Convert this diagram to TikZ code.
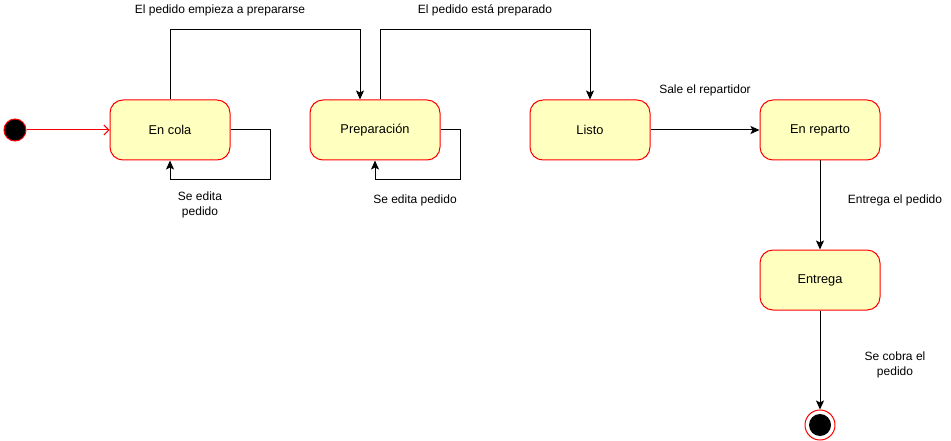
\documentclass[tikz,border=0pt]{standalone}
\usepackage{fontspec}
\setmainfont{Liberation Sans}
\usepackage{xcolor}
\usetikzlibrary{positioning,arrows.meta}
\definecolor{stFill}{HTML}{FFFFC0}
\definecolor{stLine}{HTML}{FF0000}

\begin{document}
\begin{tikzpicture}[x=1pt, y=-1pt, line width=1pt,
    font=\fontsize{12}{14.5}\selectfont,
    estado/.style={draw=stLine, fill=stFill, rounded corners=13pt,
        minimum width=120pt, minimum height=60pt, inner sep=0pt,
        font=\fontsize{12.8}{15}\selectfont},
    trans/.style={-{Stealth[length=9pt,width=8pt,inset=2pt]}, black},
    etiqueta/.style={align=center, inner sep=0pt}]
        \useasboundingbox (0,0) rectangle (951,441);

        % Initial and final states
        \node [circle, draw=stLine, fill=black, minimum size=22pt, inner sep=0pt] (ini) at (15,130) {};
        \node [circle, draw=stLine, fill=white, minimum size=30pt, inner sep=0pt] (fin) at (820,425) {};
        \node [circle, fill=black, minimum size=22pt, inner sep=0pt] (finIn) at (fin) {};

        % States
        \node [estado] (cola) at (170,130) {En cola};
        \node [estado, minimum width=130pt] (prep) at (375,130) {Preparación};
        \node [estado] (listo) at (590,130) {Listo};
        \node [estado] (reparto) at (820,130) {En reparto};
        \node [estado] (entrega) at (820,280) {Entrega};

        % Transitions
        \draw [stLine, -{Straight Barb[length=5pt,width=10pt]}] (ini) -- (cola);
        \draw [trans] (cola.east) -| ++(40,50) -| (cola.south);
        \node [etiqueta] (lblCola) at (200,205) {Se edita\\pedido};

        \draw [trans] (cola.north) -- ++(0,-70) -| ([xshift=-15pt]prep.north);
        \node [etiqueta] (lblEmpieza) at (220,10) {El pedido empieza a prepararse};

        \draw [trans] (prep.east) -| ++(20,50) -| (prep.south);
        \node [etiqueta] (lblPrep) at (415,200) {Se edita pedido};

        \draw [trans] ([xshift=5pt]prep.north) -- ++(0,-70) -| (listo.north);
        \node [etiqueta] (lblListo) at (485,10) {El pedido está preparado};

        \draw [trans] (listo) -- (reparto);
        \node [etiqueta] (lblSale) at (705,90) {Sale el repartidor};

        \draw [trans] (reparto) -- (entrega);
        \node [etiqueta] (lblEntrega) at (895,200) {Entrega el pedido};

        \draw [trans] (entrega) -- (fin);
        \node [etiqueta] (lblCobra) at (895,365) {Se cobra el\\pedido};
    \end{tikzpicture}
\end{document}
